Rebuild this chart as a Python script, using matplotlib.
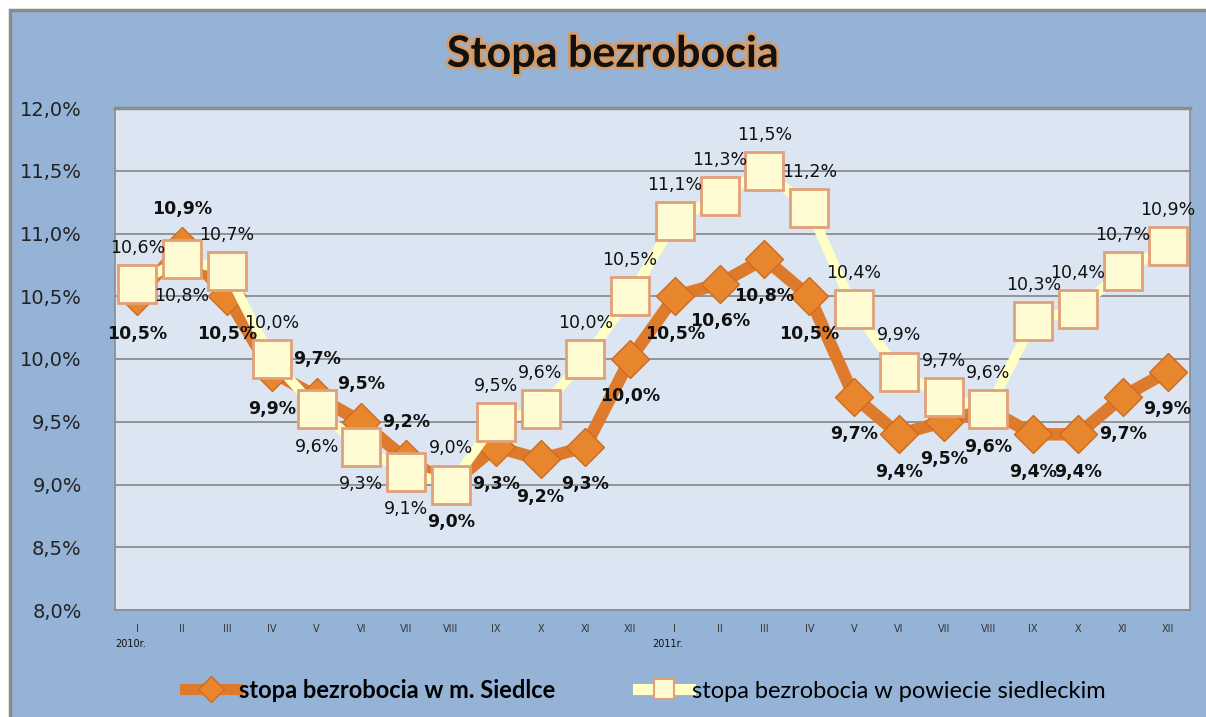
import matplotlib
matplotlib.use("Agg")
import matplotlib.pyplot as plt
import matplotlib.patheffects as pe
from matplotlib.lines import Line2D
from matplotlib.patches import Rectangle

# dane
months = ["I", "II", "III", "IV", "V", "VI", "VII", "VIII", "IX", "X", "XI", "XII"] * 2
years = ["2010r.", "2011r."]
siedlce = [10.5, 10.9, 10.5, 9.9, 9.7, 9.5, 9.2, 9.0, 9.3, 9.2, 9.3, 10.0,
           10.5, 10.6, 10.8, 10.5, 9.7, 9.4, 9.5, 9.6, 9.4, 9.4, 9.7, 9.9]
powiat = [10.6, 10.8, 10.7, 10.0, 9.6, 9.3, 9.1, 9.0, 9.5, 9.6, 10.0, 10.5,
          11.1, 11.3, 11.5, 11.2, 10.4, 9.9, 9.7, 9.6, 10.3, 10.4, 10.7, 10.9]
yticks = [8.0, 8.5, 9.0, 9.5, 10.0, 10.5, 11.0, 11.5, 12.0]
name_siedlce = "stopa bezrobocia w m. Siedlce"
name_powiat = "stopa bezrobocia w powiecie siedleckim"

# punkty, dla ktorych etykiety sa po przeciwnej stronie
flip = {1, 4, 5, 6}

BG = "#95B3D7"
PLOT_BG = "#DCE6F2"
ORANGE = "#DE7A2C"
CREAM = "#FFFFC6"
EDGE = "#E2A079"


def pct(v):
    return f"{v:.1f}%".replace(".", ",")


fig = plt.figure(figsize=(12.06, 7.17), dpi=100, facecolor="white")
fig.patches.append(Rectangle((10 / 1206, -0.02), 1.05, 1 - 10 / 717 + 0.02,
                             transform=fig.transFigure, facecolor=BG,
                             edgecolor="#8C8C8C", linewidth=2.5, zorder=-10))

ax = fig.add_axes([115 / 1206, 1 - 610 / 717, 1075 / 1206, 502 / 717])
ax.set_facecolor(PLOT_BG)
x = list(range(len(months)))

ax.plot(x, siedlce, color=ORANGE, lw=9, solid_joinstyle="round", zorder=3,
        marker="D", markersize=19, markerfacecolor="#E8862E",
        markeredgecolor="#CF6A20", markeredgewidth=1.0)
ax.plot(x, powiat, color=CREAM, lw=7, solid_joinstyle="round", zorder=4,
        marker="s", markersize=27, markerfacecolor="#FFFBD2",
        markeredgecolor=EDGE, markeredgewidth=2)

for i, v in enumerate(siedlce):
    dy = 27 if i in flip else -27
    ax.annotate(pct(v), (i, v), xytext=(0, dy), textcoords="offset points",
                ha="center", va="center", fontsize=12.5, fontweight="bold",
                color="#111111", zorder=6)
for i, v in enumerate(powiat):
    dy = -27 if i in flip else 26
    ax.annotate(pct(v), (i, v), xytext=(0, dy), textcoords="offset points",
                ha="center", va="center", fontsize=12.5, color="#111111",
                zorder=6)

ax.set_xlim(-0.5, len(months) - 0.5)
ax.set_ylim(8, 12)
ax.set_yticks(yticks)
ax.set_yticklabels([pct(v) for v in yticks], fontsize=14, color="#222222")
ax.set_xticks(x)
ax.set_xticklabels(months, fontsize=7, color="#333333")
ax.tick_params(axis="both", length=0)
ax.tick_params(axis="x", pad=10)
ax.tick_params(axis="y", pad=24)
ax.grid(axis="y", color="#858585", lw=1.2)
ax.set_axisbelow(True)
for s in ax.spines.values():
    s.set_color("#8C8C8C")
    s.set_linewidth(1.2)
ax.spines["top"].set_linewidth(2.5)

for k, yr in enumerate(years):
    ax.text(k * 12 - 0.5, -0.068, yr, transform=ax.get_xaxis_transform(),
            fontsize=7, color="#111111", ha="left", va="center")

fig.text(0.508, 0.925, "Stopa bezrobocia", fontsize=31, fontweight="bold",
         family="Lato", ha="center", va="center", color="#111111",
         path_effects=[pe.withStroke(linewidth=4, foreground="#F0923A", alpha=0.7)])

handles = [
    Line2D([], [], color=ORANGE, lw=8, marker="D", markersize=13,
           markerfacecolor="#E8862E", markeredgecolor="#CF6A20"),
    Line2D([], [], color=CREAM, lw=8, marker="s", markersize=14,
           markerfacecolor="#FFFBD2", markeredgecolor=EDGE, markeredgewidth=1.5),
]
leg = fig.legend(handles, [name_siedlce, name_powiat], loc="center",
                 bbox_to_anchor=(0.535, 1 - 690 / 717), ncol=2, frameon=False,
                 prop={"family": "Lato", "size": 17}, handlelength=2.2,
                 handletextpad=0.1, columnspacing=3.5)
leg.get_texts()[0].set_fontweight("bold")

fig.savefig("out.png", dpi=100, facecolor=fig.get_facecolor())
